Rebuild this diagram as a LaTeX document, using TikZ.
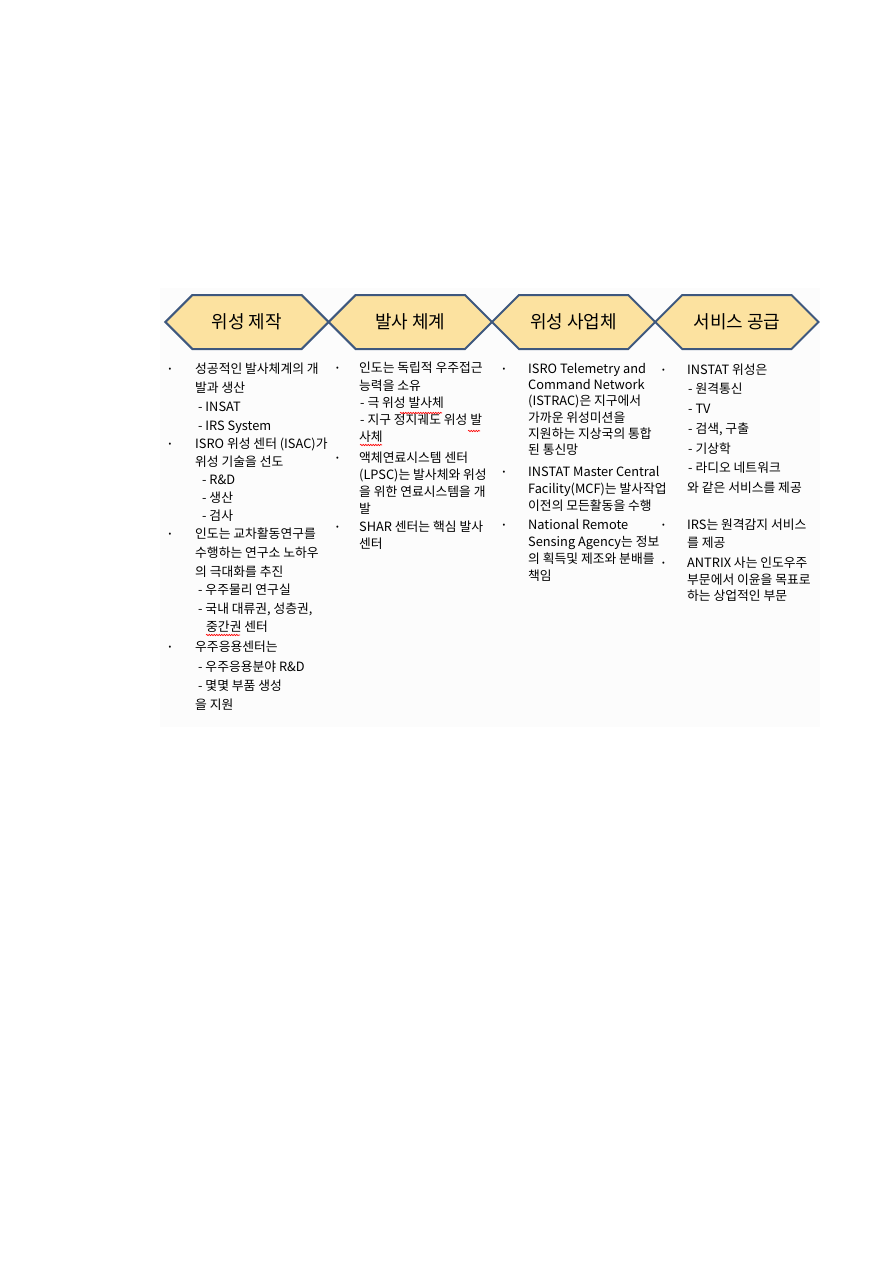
\documentclass[tikz,border=0pt]{standalone}
\usepackage{fontspec}
\setmainfont{Noto Sans CJK KR}
\usepackage{xcolor}
\usetikzlibrary{shapes.symbols,positioning,decorations.pathmorphing}
\definecolor{creme}{RGB}{252,226,160}
\definecolor{ardoise}{RGB}{62,88,126}
\definecolor{fond}{RGB}{252,252,252}

\begin{document}
\begin{tikzpicture}[x=1pt, y=-1pt,
    etape/.style={signal, signal to=west and east, signal pointer angle=90, draw=ardoise, line width=2pt, fill=creme, minimum width=163.3pt, minimum height=54pt, inner sep=0pt, outer sep=0pt, font=\fontsize{18}{21}\selectfont},
    puce/.style={inner sep=0pt, font=\fontsize{8}{8}\selectfont},
    bloc/.style={anchor=north west, inner sep=0pt, align=left, font=\fontsize{12.8}{#1}\selectfont, execute at begin node={\rule{0pt}{12pt}}},
    ondule/.style={red, line width=0.6pt, decorate, decoration={snake, segment length=2.5pt, amplitude=0.7pt}}]
                \useasboundingbox (0,0) rectangle (893,1262);

                % fond du tableau
                \fill[fond] (160,288) rectangle (820,727);

                % etapes
                \node[etape] (sat) at (247,322) {위성 제작};
                \node[etape, right=0pt of sat] (lanc) {발사 체계};
                \node[etape, right=0pt of lanc] (oper) {위성 사업체};
                \node[etape, right=0pt of oper] (serv) {서비스 공급};

                % colonne 1 : satellites
                \node[puce] (p11) at (170,370) {•};
                \node[bloc=18.9] (t11) at (195,363) {성공적인 발사체계의 개\\ 발과 생산\\ \hspace*{3pt}- INSAT\\ \hspace*{3pt}- IRS System};
                \node[puce] (p12) at (170,445) {•};
                \node[bloc=18] (t12) at (195,438) {ISRO 위성 센터 (ISAC)가\\ 위성 기술을 선도\\ \hspace*{7pt}- R\&D\\ \hspace*{7pt}- 생산\\ \hspace*{7pt}- 검사};
                \node[puce] (p13) at (170,535) {•};
                \node[bloc=18.6] (t13) at (195,528) {인도는 교차활동연구를\\ 수행하는 연구소 노하우\\ 의 극대화를 추진\\ \hspace*{3pt}- 우주물리 연구실\\ \hspace*{3pt}- 국내 대류권, 성층권,\\ \hspace*{11pt}중간권 센터};
                \node[puce] (p14) at (170,648) {•};
                \node[bloc=19.3] (t14) at (195,641) {우주응용센터는\\ \hspace*{3pt}- 우주응용분야 R\&D\\ \hspace*{3pt}- 몇몇 부품 생성\\ 을 지원};

                % colonne 2 : lanceurs
                \node[puce] (p21) at (337.5,369) {•};
                \node[bloc=17.3] (t21) at (359,362) {인도는 독립적 우주접근\\ 능력을 소유\\ \hspace*{1pt}- 극 위성 발사체\\ \hspace*{1pt}- 지구 정지궤도 위성 발\\ 사체};
                \node[puce] (p22) at (337.5,459) {•};
                \node[bloc=17] (t22) at (359,452) {액체연료시스템 센터\\ (LPSC)는 발사체와 위성\\ 을 위한 연료시스템을 개\\ 발};
                \node[puce] (p23) at (337.5,528) {•};
                \node[bloc=17] (t23) at (359,521) {SHAR 센터는 핵심 발사\\ 센터};

                % colonne 3 : operateurs
                \node[puce] (p31) at (504,370) {•};
                \node[bloc=16.3] (t31) at (528,363) {ISRO Telemetry and\\ Command Network\\ (ISTRAC)은 지구에서\\ 가까운 위성미션을\\ 지원하는 지상국의 통합\\ 된 통신망};
                \node[puce] (p32) at (504,473) {•};
                \node[bloc=17] (t32) at (528,466) {INSTAT Master Central\\ Facility(MCF)는 발사작업\\ 이전의 모든활동을 수행};
                \node[puce] (p33) at (504,526) {•};
                \node[bloc=17] (t33) at (528,519) {National Remote\\ Sensing Agency는 정보\\ 의 획득및 제조와 분배를\\ 책임};

                % colonne 4 : services
                \node[puce] (p41) at (663.5,370.5) {•};
                \node[bloc=19.7] (t41) at (687,363.5) {INSTAT 위성은\\ \hspace*{1pt}- 원격통신\\ \hspace*{1pt}- TV\\ \hspace*{1pt}- 검색, 구출\\ \hspace*{1pt}- 기상학\\ \hspace*{1pt}- 라디오 네트워크\\ 와 같은 서비스를 제공};
                \node[puce] (p42) at (663.5,526) {•};
                \node[bloc=18] (t42) at (687,519) {IRS는 원격감지 서비스\\ 를 제공};
                \node[puce] (p43) at (663.5,564) {•};
                \node[bloc=16.5] (t43) at (687,557) {ANTRIX 사는 인도우주\\ 부문에서 이윤을 목표로\\ 하는 상업적인 부문};

                % soulignements du correcteur
                \draw[ondule] (400,413) -- (442,413);
                \draw[ondule] (468,431) -- (480,431);
                \draw[ondule] (360,445) -- (382,445);
                \draw[ondule] (206,635) -- (240,635);

\end{tikzpicture}
\end{document}
